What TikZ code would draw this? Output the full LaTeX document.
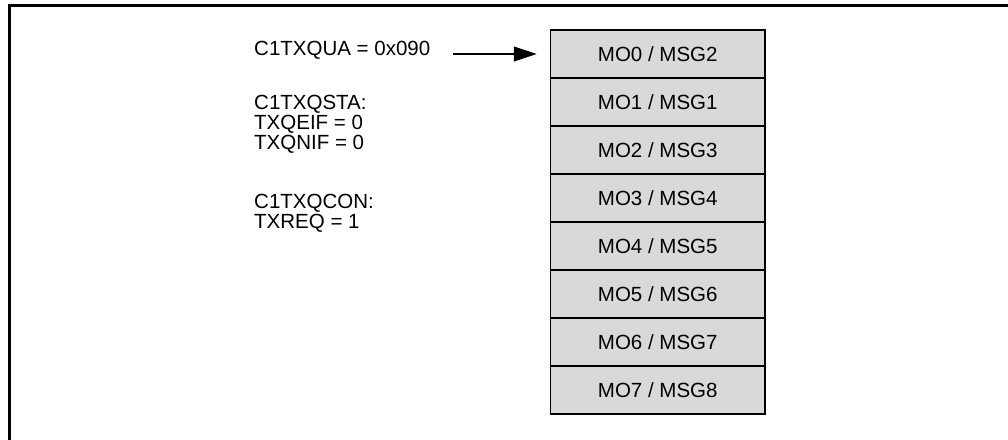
\documentclass[tikz,border=0pt]{standalone}
\usepackage{fontspec}
\setmainfont{Liberation Sans}
\usetikzlibrary{arrows.meta}
\begin{document}
\begin{tikzpicture}[x=1pt,y=-1pt,
  every node/.style={font=\fontsize{20.5}{20}\selectfont},
  lbl/.style={anchor=base west,inner sep=0pt},
  mobox/.style={draw=black,line width=1.5pt,fill=black!15,minimum width=214.5pt,minimum height=48pt,inner sep=0pt},
  frameline/.style={draw=black,line width=3pt}]
\useasboundingbox (0,0) rectangle (1008,439);
\clip (0,0) rectangle (1008,439);
\draw[frameline] (9.5,5.5) rectangle (1020,450);
% left texts
\node[lbl] (qua) at (254,55) {C1TXQUA = 0x090};
\node[lbl] (sta) at (254,109) {C1TXQSTA:};
\node[lbl] (eif) at (254,129) {TXQEIF = 0};
\node[lbl] (nif) at (254,149) {TXQNIF = 0};
\node[lbl] (con) at (254,208) {C1TXQCON:};
\node[lbl] (req) at (254,228) {TXREQ = 1};
% message boxes
\foreach \i/\m in {0/2,1/1,2/3,3/4,4/5,5/6,6/7,7/8}{
  \node[mobox] (b\i) at (657.75,{54+48*\i}) {MO\i\ / MSG\m};
}
\coordinate (astart) at (453,54);
\draw[line width=1.2pt,-{Triangle[length=23pt,width=15pt]},shorten >=13pt] (astart) -- (b0.west);
\end{tikzpicture}
\end{document}
